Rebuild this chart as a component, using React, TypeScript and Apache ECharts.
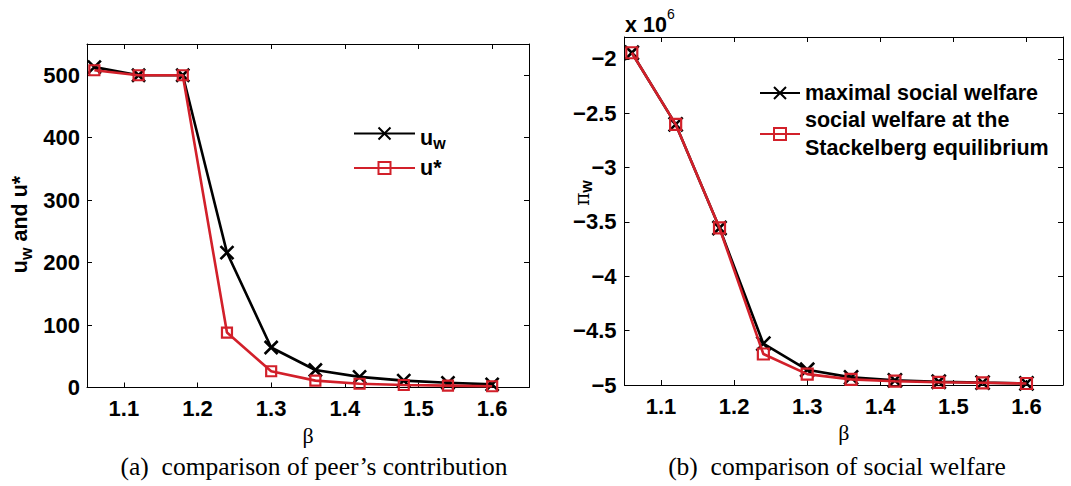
import React, { useEffect, useRef } from "react";
import * as echarts from "echarts";

const BETA = [1.06, 1.12, 1.18, 1.24, 1.3, 1.36, 1.42, 1.48, 1.54, 1.6];
const U_W = [513, 500, 500, 216, 64, 28, 17, 11, 7.5, 5];
const U_STAR = [508, 500, 500, 88, 26, 11, 6, 4, 3, 2];
const MAX_SW = [-1.945e6, -2.603e6, -3.556e6, -4.62e6, -4.86e6, -4.93e6, -4.957e6, -4.97e6, -4.978e6, -4.985e6];
const STACK_SW = [-1.945e6, -2.603e6, -3.556e6, -4.715e6, -4.9e6, -4.948e6, -4.965e6, -4.975e6, -4.98e6, -4.986e6];

const X_TICKS = [1.1, 1.2, 1.3, 1.4, 1.5, 1.6];
const U_TICKS = [0, 100, 200, 300, 400, 500];
const SW_TICKS = [-5e6, -4.5e6, -4e6, -3.5e6, -3e6, -2.5e6, -2e6];

const NAME_UW = "u_w";
const NAME_US = "u*";
const NAME_MAX = "maximal social welfare";
const NAME_STACK = "social welfare at the\nStackelberg equilibrium";
const CAPTION_A = "(a)  comparison of peer\u2019s contribution";
const CAPTION_B = "(b)  comparison of social welfare";

const RED = "#d2202a";
const SANS = "Liberation Sans";
const SERIF = "Liberation Serif";
const X_PATH = "path://M0,0L10,10M10,0L0,10";

const tickFont = { fontFamily: SANS, fontWeight: "bold" as const, fontSize: 22, color: "#000" };

function xAxes(grid: number, ticks: number[]) {
  const base = {
    gridIndex: grid,
    type: "value" as const,
    min: 1.05,
    max: 1.65,
    splitLine: { show: false },
    axisLine: { show: true, onZero: false, lineStyle: { color: "#000", width: 1 } },
    axisTick: { show: true, inside: true, length: 5, customValues: ticks, lineStyle: { color: "#000", width: 1 } },
  };
  return [
    {
      ...base,
      position: "bottom" as const,
      axisLabel: { ...tickFont, margin: 10, customValues: ticks, formatter: (v: number) => String(+v.toFixed(2)) },
      name: "\u03b2",
      nameLocation: "middle" as const,
      nameGap: 31,
      nameTextStyle: { fontFamily: SERIF, fontSize: 22, color: "#000" },
    },
    { ...base, position: "top" as const, axisLabel: { show: false } },
  ];
}

function yAxes(grid: number, min: number, max: number, ticks: number[], fmt: (v: number) => string, margin: number) {
  const base = {
    gridIndex: grid,
    type: "value" as const,
    min,
    max,
    splitLine: { show: false },
    axisLine: { show: true, onZero: false, lineStyle: { color: "#000", width: 1 } },
    axisTick: { show: true, inside: true, length: 5, customValues: ticks, lineStyle: { color: "#000", width: 1 } },
  };
  return [
    { ...base, position: "left" as const, axisLabel: { ...tickFont, margin, customValues: ticks, formatter: fmt } },
    { ...base, position: "right" as const, axisLabel: { show: false } },
  ];
}

const fmtSW = (v: number) => {
  const s = String(+(v / 1e6).toFixed(2));
  return s.replace("-", "\u2212");
};

function pairs(xs: number[], ys: number[]) {
  return xs.map((x, i) => [x, ys[i]]);
}

function blackSeries(name: string, x: number, y: number, data: number[][], size: number) {
  return {
    type: "line" as const,
    name,
    xAxisIndex: x,
    yAxisIndex: y,
    data,
    z: 2,
    symbol: X_PATH,
    symbolSize: size,
    showAllSymbol: true,
    lineStyle: { color: "#000", width: 2.6 },
    itemStyle: { color: "#000", borderColor: "#000", borderWidth: 2.6 },
  };
}

function redSeries(name: string, x: number, y: number, data: number[][], size: number) {
  return {
    type: "line" as const,
    name,
    xAxisIndex: x,
    yAxisIndex: y,
    data,
    z: 3,
    symbol: "rect",
    symbolSize: size,
    showAllSymbol: true,
    lineStyle: { color: RED, width: 2.6 },
    itemStyle: { color: "rgba(255,255,255,0)", borderColor: RED, borderWidth: 2.2 },
  };
}

const bold = { fontFamily: SANS, fontWeight: "bold" as const, color: "#000" };
const legendRich = {
  m: { ...bold, fontSize: 21.5, lineHeight: 28 },
  d: { ...bold, fontSize: 21.5, lineHeight: 28, padding: [8, 0, 0, 0] },
  s: { ...bold, fontSize: 16, lineHeight: 16, padding: [19, 0, 0, 0] },
};
const labelRich = {
  m: { ...bold, fontSize: 21.5, lineHeight: 28 },
  s: { ...bold, fontSize: 16, lineHeight: 16, padding: [12, 0, 0, 0] },
};

export default function App() {
  const ref = useRef<HTMLDivElement>(null);
  useEffect(() => {
    if (!ref.current) return;
    const chart = echarts.init(ref.current, undefined, { renderer: "svg" });
    const option: any = {
      animation: false,
      backgroundColor: "#fff",
      grid: [
        { left: 87, top: 44, width: 442, height: 343.5, outerBoundsMode: "none" },
        { left: 624.5, top: 37, width: 438.5, height: 348, outerBoundsMode: "none" },
      ],
      xAxis: [...xAxes(0, X_TICKS), ...xAxes(1, X_TICKS)],
      yAxis: [
        ...yAxes(0, 0, 550, U_TICKS, (v: number) => String(v), 7),
        ...yAxes(1, -5e6, -1.8e6, SW_TICKS, fmtSW, 8),
      ],
      legend: [
        {
          data: [NAME_UW, NAME_US],
          orient: "vertical",
          left: 353,
          top: 116,
          padding: 0,
          itemGap: 3,
          itemWidth: 61,
          itemHeight: 15,
          selectedMode: false,
          formatter: (n: string) => (n === NAME_UW ? "{d|u}{s|w}" : "{m|u*}"),
          textStyle: { fontFamily: SANS, fontWeight: "bold", fontSize: 21.5, lineHeight: 28, color: "#000", rich: legendRich },
        },
        {
          data: [NAME_MAX, NAME_STACK],
          orient: "vertical",
          left: 759,
          top: 79,
          padding: 0,
          itemGap: -1,
          itemWidth: 40,
          itemHeight: 15,
          selectedMode: false,
          textStyle: { fontFamily: SANS, fontWeight: "bold", fontSize: 21.5, lineHeight: 28, color: "#000" },
        },
      ],
      series: [
        blackSeries(NAME_UW, 0, 0, pairs(BETA, U_W), 13),
        redSeries(NAME_US, 0, 0, pairs(BETA, U_STAR), 10),
        blackSeries(NAME_MAX, 2, 2, pairs(BETA, MAX_SW), 14),
        redSeries(NAME_STACK, 2, 2, pairs(BETA, STACK_SW), 11),
      ],
      graphic: [
        {
          type: "text",
          x: 20,
          y: 224.5,
          rotation: Math.PI / 2,
          style: {
            text: "{m|u}{s|w}{m| and u*}",
            align: "center",
            verticalAlign: "middle",
            rich: labelRich,
          },
        },
        {
          type: "text",
          x: 582,
          y: 193,
          rotation: Math.PI / 2,
          style: {
            text: "{p|\u03c0}{s|w}",
            align: "center",
            verticalAlign: "middle",
            rich: {
              p: { fontFamily: "DejaVu Serif", fontSize: 20, lineHeight: 26, color: "#000" },
              s: { ...bold, fontSize: 16, lineHeight: 16, padding: [9, 0, 0, 0] },
            },
          },
        },
        {
          type: "text",
          x: 625,
          y: 25,
          style: { text: "x 10", fontFamily: SANS, fontWeight: "bold", fontSize: 21.5, fill: "#000", align: "left", verticalAlign: "middle" },
        },
        {
          type: "text",
          x: 667,
          y: 14,
          style: { text: "6", fontFamily: SANS, fontSize: 14, fill: "#000", align: "left", verticalAlign: "middle" },
        },
        {
          type: "text",
          x: 314,
          y: 466,
          style: { text: CAPTION_A, fontFamily: SERIF, fontSize: 25.5, fill: "#000", align: "center", verticalAlign: "middle" },
        },
        {
          type: "text",
          x: 837,
          y: 466,
          style: { text: CAPTION_B, fontFamily: SERIF, fontSize: 25.5, fill: "#000", align: "center", verticalAlign: "middle" },
        },
      ],
    };
    chart.setOption(option);
    return () => chart.dispose();
  }, []);
  return <div ref={ref} style={{ position: "fixed", left: 0, top: 0, width: 1071, height: 486, background: "#fff" }} />;
}
